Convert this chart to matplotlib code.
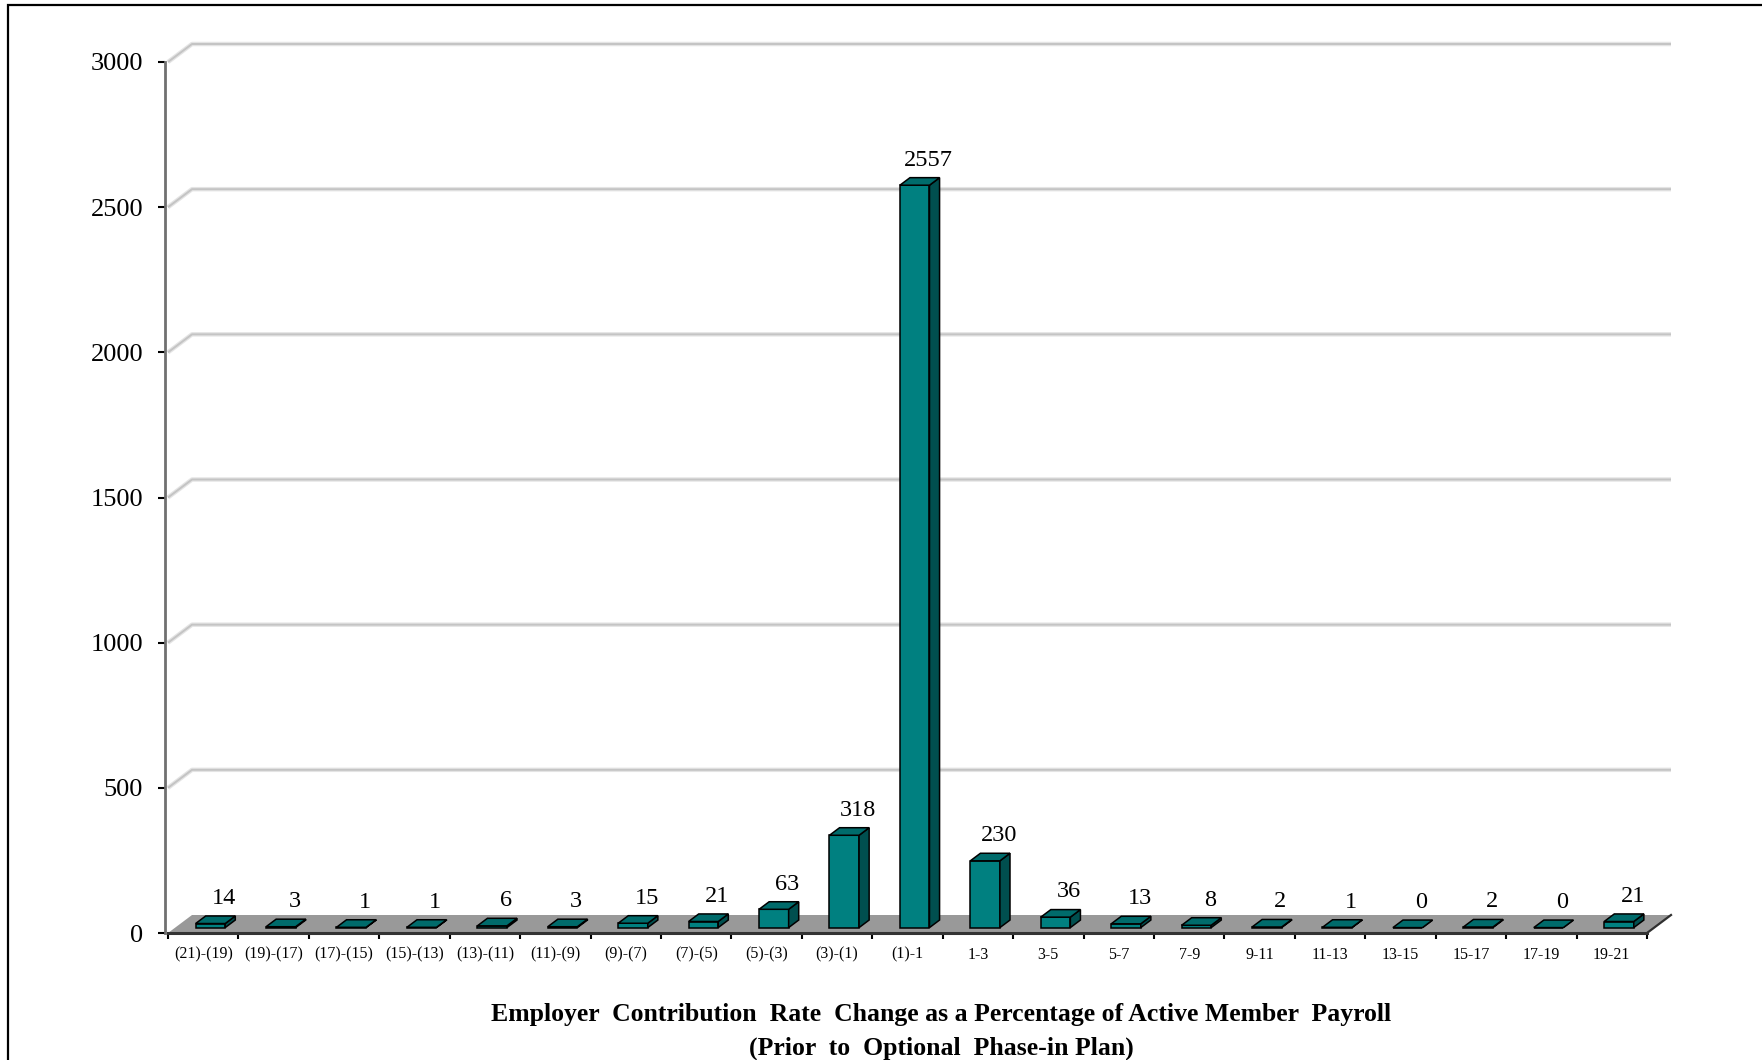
import matplotlib
matplotlib.use("Agg")
import matplotlib.pyplot as plt
from matplotlib.patches import Polygon, Rectangle

categories = ["(21)-(19)", "(19)-(17)", "(17)-(15)", "(15)-(13)", "(13)-(11)",
              "(11)-(9)", "(9)-(7)", "(7)-(5)", "(5)-(3)", "(3)-(1)", "(1)-1",
              "1-3", "3-5", "5-7", "7-9", "9-11", "11-13", "13-15", "15-17",
              "17-19", "19-21"]
counts = [14, 3, 1, 1, 6, 3, 15, 21, 63, 318, 2557, 230, 36, 13, 8, 2, 1, 0, 2, 0, 21]
y_ticks = [0, 500, 1000, 1500, 2000, 2500, 3000]
title_lines = ["Employer  Contribution  Rate  Change as a Percentage of Active Member  Payroll",
               "(Prior  to  Optional  Phase-in Plan)"]

W, H = 1762, 1060
serif = "Liberation Serif"
front_col, side_col, top_col = "#008080", "#004f4f", "#006b6b"

fig = plt.figure(figsize=(W / 100, H / 100), dpi=100)
ax = fig.add_axes([168 / W, (H - 933) / H, (1647 - 168) / W, (933 - 62) / H])
n = len(categories)
ax.set_xlim(-0.5, n - 0.5)
ax.set_ylim(y_ticks[0], y_ticks[-1])

# pixel -> data scale, used for the fake 3d depth
px_x = (1647 - 168) / n
px_y = (933 - 62) / (y_ticks[-1] - y_ticks[0])
dx, dy = 24 / px_x, 18 / px_y

# back wall gridlines
for v in y_ticks[1:]:
    ax.plot([-0.5, -0.5 + dx, n - 0.5 + dx], [v, v + dy, v + dy],
            color="#e4e4e4", lw=3.2, clip_on=False, zorder=0.5, solid_capstyle="butt")
    ax.plot([-0.5, -0.5 + dx, n - 0.5 + dx], [v, v + dy, v + dy],
            color="#c4c4c4", lw=1.4, clip_on=False, zorder=0.6, solid_capstyle="butt")

# floor
floor = Polygon([(-0.5, 0), (n - 0.5, 0), (n - 0.5 + dx, dy), (-0.5 + dx, dy)],
                closed=True, fc="#999999", ec="none", zorder=1.5, clip_on=False)
ax.add_patch(floor)
ax.plot([n - 0.5, n - 0.5 + dx], [0, dy], color="#303030", lw=1.6, clip_on=False, zorder=2)

# bars
bw = 0.42
f0, f1 = 0.3, 0.72
ddx, ddy = (f1 - f0) * dx, (f1 - f0) * dy
for i, v in enumerate(counts):
    x0 = i - bw / 2 + f0 * dx
    x1 = x0 + bw
    y0 = f0 * dy
    y1 = y0 + v
    faces = [
        ([(x0, y0), (x1, y0), (x1, y1), (x0, y1)], front_col),
        ([(x1, y0), (x1 + ddx, y0 + ddy), (x1 + ddx, y1 + ddy), (x1, y1)], side_col),
        ([(x0, y1), (x1, y1), (x1 + ddx, y1 + ddy), (x0 + ddx, y1 + ddy)], top_col),
    ]
    for pts, c in faces:
        ax.add_patch(Polygon(pts, closed=True, fc=c, ec="black", lw=1.1,
                             zorder=3, clip_on=False))
    ax.annotate(f"{v}", xy=(i, v), xytext=(15, 22), textcoords="offset points",
                ha="center", va="center", fontsize=17.5, family=serif, zorder=5)

# axes styling
for s in ["top", "right"]:
    ax.spines[s].set_visible(False)
ax.spines["left"].set_color("#707070")
ax.spines["left"].set_linewidth(2)
ax.spines["left"].set_position(("outward", 2))
ax.spines["bottom"].set_color("#333333")
ax.spines["bottom"].set_linewidth(2.2)
ax.spines["left"].set_zorder(2)
ax.spines["bottom"].set_zorder(2)

ax.set_yticks(y_ticks)
ax.set_yticklabels([str(t) for t in y_ticks], fontsize=19, family=serif)
ax.tick_params(axis="y", length=5, width=1.5, color="black", pad=11)

ax.set_xticks(range(n))
ax.set_xticklabels(categories, fontsize=11.5, family=serif)
ax.set_xticks([k - 0.5 for k in range(n + 1)], minor=True)
ax.tick_params(axis="x", which="major", length=0, pad=10)
ax.tick_params(axis="x", which="minor", length=4.5, width=1.5, color="black")

ax.patch.set_visible(False)

fig.text(941 / W, 1 - 1015 / H, title_lines[0], ha="center", va="center",
         fontsize=18.5, weight="bold", family=serif)
fig.text(941 / W, 1 - 1048 / H, title_lines[1], ha="center", va="center",
         fontsize=18.5, weight="bold", family=serif)

# outer frame (left and top edges visible)
fig.add_artist(Rectangle((8 / W, -0.1), 1.2, 1.1 - 5 / H, transform=fig.transFigure,
                         fill=False, ec="black", lw=1.6))

fig.savefig("out.png", dpi=100)
